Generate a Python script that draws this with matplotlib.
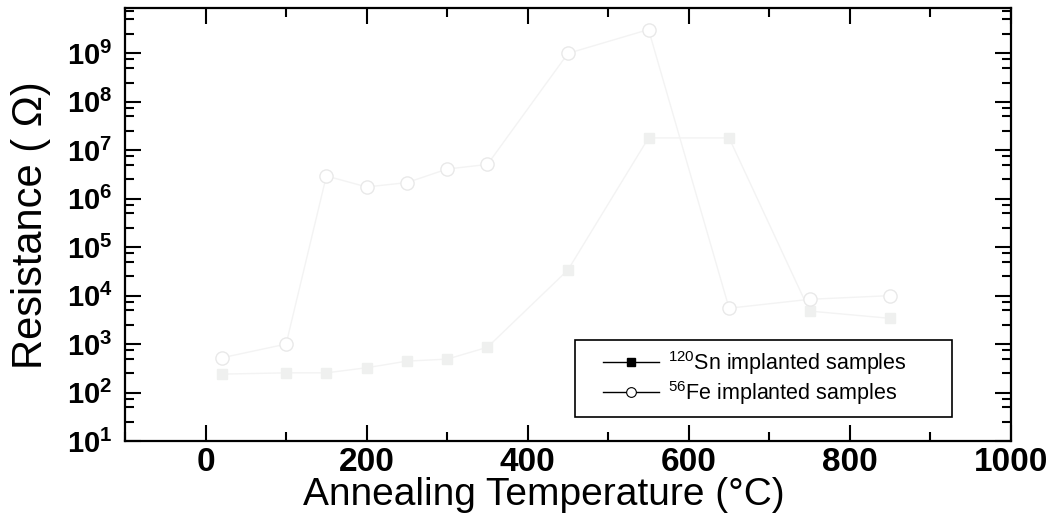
import numpy as np
import matplotlib
matplotlib.use('Agg')
import matplotlib.pyplot as plt
from matplotlib.ticker import MultipleLocator, LogLocator, FuncFormatter, NullFormatter
from matplotlib.lines import Line2D
from matplotlib.patches import Rectangle

# ---- data ----
temps_sn = [20, 100, 150, 200, 250, 300, 350, 450, 550, 650, 750, 850]
res_sn = [240, 255, 255, 325, 445, 490, 860, 3.4e4, 1.8e7, 1.8e7, 4.8e3, 3.4e3]
temps_fe = [20, 100, 150, 200, 250, 300, 350, 450, 550, 650, 750, 850]
res_fe = [520, 1.0e3, 2.95e6, 1.75e6, 2.15e6, 4.1e6, 5.1e6, 1.0e9, 3.1e9, 5.5e3, 8.4e3, 1.0e4]

label_sn = r'$^{120}$Sn implanted samples'
label_fe = r'$^{56}$Fe implanted samples'
x_label = 'Annealing Temperature (°C)'
y_label = 'Resistance ( Ω)'
x_ticks = [0, 200, 400, 600, 800, 1000]

plt.rcParams['font.family'] = ['Liberation Sans', 'DejaVu Sans']
plt.rcParams['mathtext.fontset'] = 'custom'
plt.rcParams['mathtext.rm'] = 'Liberation Sans'
plt.rcParams['mathtext.it'] = 'Liberation Sans:italic'
plt.rcParams['mathtext.bf'] = 'Liberation Sans:bold'

fig = plt.figure(figsize=(10.51, 5.14), dpi=100)
ax = fig.add_axes([125/1051, 1-441/514, 886/1051, (441-8.3)/514])

ax.plot(temps_sn, res_sn, color='#f3f3f3', lw=1.0, marker='s', ms=7,
        mfc='#eff0ef', mec='#eff0ef', zorder=2)
ax.plot(temps_fe, res_fe, color='#f3f3f3', lw=1.0, marker='o', ms=9.5,
        mfc='white', mec='#e9e9e9', mew=1.0, zorder=3)

ax.set_yscale('log')
ax.set_xlim(-100, 1000)
ax.set_ylim(10, 10**9.93)

ax.set_xticks(x_ticks)
ax.xaxis.set_minor_locator(MultipleLocator(100))
ax.yaxis.set_major_locator(LogLocator(base=10, numticks=20))
ax.yaxis.set_minor_locator(LogLocator(base=10, subs=(2.5, 5.0, 7.5), numticks=20))
ax.yaxis.set_minor_formatter(NullFormatter())
ax.yaxis.set_major_formatter(FuncFormatter(
    lambda v, p: r'$\mathbf{10^{%d}}$' % int(round(np.log10(v)))))

ax.tick_params(which='both', direction='in', top=True, right=True, width=1.5)
ax.tick_params(which='major', length=11.5)
ax.tick_params(which='minor', length=6.5)
ax.tick_params(axis='x', which='major', labelsize=24, pad=4)
ax.tick_params(axis='y', which='major', labelsize=21, pad=9)
for lab in ax.get_xticklabels():
    lab.set_fontweight('bold')

for sp in ax.spines.values():
    sp.set_linewidth(1.6)

ax.set_xlabel(x_label, fontsize=28)
ax.xaxis.set_label_coords(0.473, -0.083)
ax.set_ylabel(y_label, fontsize=30)
ax.yaxis.set_label_coords(-0.084, 0.498)

# legend (black symbols as in the reference)
h_sn = Line2D([], [], color='black', lw=1, marker='s', ms=6, mfc='black', mec='black')
h_fe = Line2D([], [], color='black', lw=1, marker='o', ms=7, mfc='white', mec='black', mew=0.8)
leg = ax.legend([h_sn, h_fe], [label_sn, label_fe], loc='upper left',
                bbox_to_anchor=((603-125)/886, (441-349)/432.7),
                frameon=False, fontsize=15.5, handlelength=2.6, handletextpad=0.4,
                labelspacing=0.08, borderpad=0.0, borderaxespad=0.0)
box = Rectangle((575/1051, 1-417/514), (952-575)/1051, (417-340)/514,
                transform=fig.transFigure, fill=False, edgecolor='black', lw=1.2, zorder=5)
fig.patches.append(box)

fig.savefig('out.png', dpi=100)
